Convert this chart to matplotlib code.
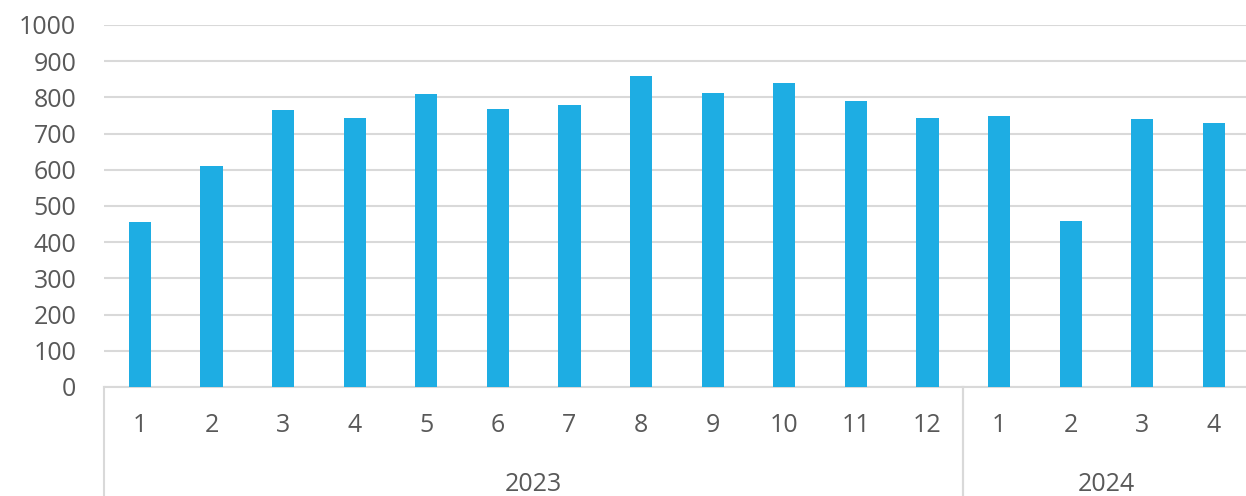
import matplotlib.pyplot as plt
import matplotlib.transforms as mtransforms
import numpy as np

# 数据
years = ["2023", "2024"]
months_2023 = [1, 2, 3, 4, 5, 6, 7, 8, 9, 10, 11, 12]
months_2024 = [1, 2, 3, 4]
values_2023 = [456, 610, 765, 743, 809, 768, 779, 859, 812, 840, 790, 744]
values_2024 = [749, 459, 740, 729]

plt.rcParams['font.family'] = ['Open Sans', 'DejaVu Sans']

bar_color = "#1EADE3"
grid_color = "#D9D9D9"
text_color = "#595959"

month_labels = [str(m) for m in months_2023 + months_2024]
values = values_2023 + values_2024
x = np.arange(len(values))

fig = plt.figure(figsize=(12.46, 4.96), dpi=100)
ax = fig.add_axes([0.0835, 0.2198, 0.9194, 0.7298])

ax.bar(x, values, width=0.31, color=bar_color, zorder=3)

ax.set_xlim(-0.5, len(values) - 0.5)
ax.set_ylim(0, 1000)
ax.set_yticks(np.arange(0, 1001, 100))
ax.yaxis.grid(True, color=grid_color, linewidth=1.5, zorder=0)
ax.set_axisbelow(True)

for side in ["top", "right", "left"]:
    ax.spines[side].set_visible(False)
ax.spines["bottom"].set_color(grid_color)
ax.spines["bottom"].set_linewidth(1.5)

ax.set_xticks(x)
ax.set_xticklabels(month_labels)
ax.tick_params(axis="x", length=0, pad=19, labelsize=18, labelcolor=text_color)
ax.tick_params(axis="y", length=0, pad=20, labelsize=18, labelcolor=text_color)

# 年份分组线和标签
trans = mtransforms.blended_transform_factory(ax.transData, ax.transAxes)
counts = [len(months_2023), len(months_2024)]
start = 0
for year, n in zip(years, counts):
    left = start - 0.5
    right = start + n - 0.5
    for xb in (left, right):
        ax.plot([xb, xb], [0, -0.32], transform=trans, color=grid_color,
                linewidth=1.5, clip_on=False)
    ax.text((left + right) / 2, -0.27, year, transform=trans, ha="center",
            va="center", fontsize=18, color=text_color)
    start += n

fig.savefig("out.png", dpi=100)
